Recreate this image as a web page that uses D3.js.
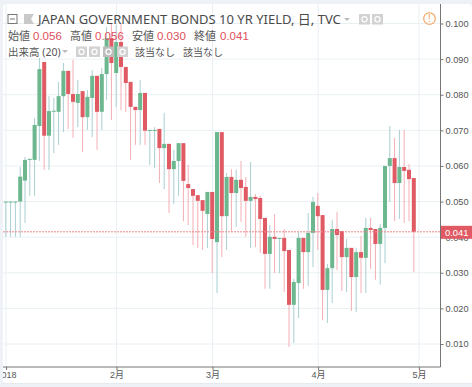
<!DOCTYPE html>
<html>
<head>
<meta charset="utf-8">
<script src="https://cdnjs.cloudflare.com/ajax/libs/d3/7.8.5/d3.min.js"></script>
<style>
    html, body { margin: 0; padding: 0; background: #eef1f5; }
    svg { display: block; }
    text { font-family: "Liberation Sans", "Noto Sans CJK JP", sans-serif; }
    .hdr { font-family: "Noto Sans", "Noto Sans CJK JP", sans-serif; }
</style>
</head>
<body>
<div id="chart"></div>
<script>
var openVals = [.0500, .0500, .0500, .0500, .0559, .0617, .0617, .0712, .0892, .0685, .0754, .0752, .0796, .0867, .0802, .0777, .0810, .0737, .0791, .0853, .0752, .0858,
    .0959, .0861, .0948, .0878, .0836, .0766, .0757, .0805, .0700, .0700, .0704, .0650, .0662, .0591, .0614, .0664, .0549, .0535, .0518, .0504, .0465,
    .0527, .0386, .0695, .0459, .0569, .0524, .0561, .0541, .0502, .0513, .0510, .0454, .0353, .0401, .0397, .0398, .0364, .0210, .0271, .0398, .0358, .0412,
    .0488, .0462, .0252, .0313, .0423, .0417, .0344, .0370, .0288, .0358, .0342, .0426, .0423, .0381, .0426, .0600, .0622, .0552, .0597, .0589, .0566]
var highVals = [.0500, .0500, .0500, .0597, .0625, .0620, .0735, .0903, .0892, .0796, .0791, .0836, .0889, .0867, .0898, .0841, .0810, .0813, .0869, .0853, .0875, .0990,
    .0999, .0996, .1001, .0878, .0836, .0766, .0841, .0805, .0701, .0709, .0704, .0749, .0662, .0645, .0664, .0664, .0603, .0535, .0518, .0504, .0527,
    .0527, .0695, .0695, .0580, .0591, .0589, .0614, .0569, .0611, .0521, .0516, .0454, .0434, .0465, .0398, .0423, .0364, .0283, .0415, .0398, .0468, .0513,
    .0524, .0462, .0325, .0448, .0471, .0417, .0395, .0370, .0370, .0403, .0454, .0454, .0423, .0437, .0600, .0712, .0679, .0701, .0701, .0605, .0566]
var lowVals = [.0401, .0401, .0401, .0401, .0440, .0516, .0516, .0614, .0589, .0589, .0636, .0659, .0695, .0704, .0679, .0709, .0639, .0701, .0681, .0645, .0701, .0785,
    .0729, .0766, .0757, .0752, .0617, .0659, .0659, .0659, .0603, .0594, .0552, .0535, .0468, .0493, .0516, .0445, .0434, .0378, .0370, .0364, .0370,
    .0299, .0243, .0344, .0364, .0415, .0429, .0443, .0401, .0370, .0372, .0356, .0255, .0255, .0299, .0299, .0246, .0092, .0103, .0173, .0255, .0263, .0316,
    .0364, .0167, .0159, .0215, .0308, .0249, .0246, .0193, .0190, .0243, .0243, .0311, .0280, .0266, .0327, .0499, .0445, .0451, .0440, .0445, .0302]
var closeVals = [.0500, .0500, .0500, .0570, .0617, .0620, .0715, .0872, .0685, .0754, .0755, .0796, .0867, .0802, .0780, .0802, .0737, .0794, .0853, .0752, .0858, .0959,
    .0889, .0948, .0878, .0833, .0766, .0757, .0805, .0699, .0701, .0701, .0650, .0662, .0591, .0614, .0664, .0558, .0538, .0516, .0502, .0474, .0527,
    .0395, .0695, .0459, .0569, .0524, .0561, .0538, .0502, .0513, .0507, .0451, .0353, .0401, .0395, .0398, .0361, .0210, .0274, .0398, .0358, .0412, .0499,
    .0459, .0252, .0313, .0423, .0406, .0344, .0370, .0288, .0358, .0342, .0426, .0420, .0381, .0426, .0600, .0622, .0552, .0597, .0586, .0563, .0415]

var yTicks = [.01, .02, .03, .04, .05, .06, .07, .08, .09, .10]
var xTickIndex = [0, 23, 43, 65, 86]
var xTickLabels = ["2018", "2月", "3月", "4月", "5月"]
var lastLabel = "0.041"

var headerNames = ["始値", "高値", "安値", "終値"]
var headerVals = ["0.056", "0.056", "0.030", "0.041"]

var W = 472, H = 387
var plot = { left: 3, right: 440.5, top: 4, bottom: 367 }
var GREEN = "#6cb78e", RED = "#e05a64", GREEN_WICK = "#a9cfd0", RED_WICK = "#f3aeb6", GRID = "#e9f0f4"

var svg = d3.select("#chart").append("svg")
    .attr("width", W)
    .attr("height", H)

// white card with rounded corners
svg.append("rect")
    .attr("x", plot.left).attr("y", plot.top)
    .attr("width", W - plot.left).attr("height", 380)
    .attr("rx", 4)
    .attr("fill", "#ffffff")

var defs = svg.append("defs")
defs.append("clipPath").attr("id", "plotClip")
    .append("rect")
    .attr("x", plot.left).attr("y", plot.top)
    .attr("width", plot.right - plot.left).attr("height", plot.bottom - plot.top)
defs.append("clipPath").attr("id", "xClip")
    .append("rect").attr("x", plot.left).attr("y", -1).attr("width", W).attr("height", 20)
defs.append("filter").attr("id", "soft")
    .append("feGaussianBlur").attr("stdDeviation", .3)

var x = d3.scaleLinear().domain([0, 86]).range([6.1, 418.9])
var y = d3.scaleLinear().domain([.01, .10]).range([344, 23.5])
var up = function (i) { return closeVals[i] >= openVals[i] }

// grid
var grid = svg.append("g").attr("clip-path", "url(#plotClip)")
grid.selectAll(".h").data(yTicks).enter().append("line")
    .attr("x1", plot.left).attr("x2", plot.right)
    .attr("y1", function (d) { return y(d) }).attr("y2", function (d) { return y(d) })
    .attr("stroke", GRID)
grid.selectAll(".v").data(xTickIndex).enter().append("line")
    .attr("y1", plot.top).attr("y2", plot.bottom)
    .attr("x1", function (d) { return x(d) }).attr("x2", function (d) { return x(d) })
    .attr("stroke", GRID)

// candles
var idx = d3.range(openVals.length)
var candles = svg.append("g").attr("clip-path", "url(#plotClip)").append("g").attr("filter", "url(#soft)")
candles.selectAll(".wick").data(idx).enter().append("line")
    .attr("x1", function (i) { return x(i) - .3 }).attr("x2", function (i) { return x(i) - .3 })
    .attr("y1", function (i) { return y(highVals[i]) })
    .attr("y2", function (i) { return y(lowVals[i]) })
    .attr("stroke-width", 1)
    .attr("stroke", function (i) { return up(i) ? GREEN_WICK : RED_WICK })
candles.selectAll(".body").data(idx).enter().append("rect")
    .attr("x", function (i) { return x(i) - 2.3 })
    .attr("width", 4)
    .attr("y", function (i) { return y(Math.max(openVals[i], closeVals[i])) })
    .attr("height", function (i) { return Math.max(1, Math.abs(y(openVals[i]) - y(closeVals[i]))) })
    .attr("fill", function (i) { return up(i) ? GREEN : RED })

// last price line
svg.append("line")
    .attr("x1", plot.left).attr("x2", plot.right)
    .attr("y1", y(closeVals[85])).attr("y2", y(closeVals[85]))
    .attr("stroke", "#ee858e")
    .attr("stroke-dasharray", "2,1")

// axes
var yAxis = svg.append("g")
    .attr("transform", "translate(" + plot.right + ",0)")
    .call(d3.axisRight(y).tickValues(yTicks).tickFormat(d3.format(".3f")).tickSize(3).tickPadding(2))
yAxis.select(".domain").attr("d", "M0," + plot.top + "V" + plot.bottom).attr("stroke", "#757575")
yAxis.selectAll(".tick line").attr("stroke", "#757575")
yAxis.selectAll("text").attr("font-size", 9.2).attr("fill", "#555").style("font-family", "'Liberation Sans'")

var xAxis = svg.append("g")
    .attr("transform", "translate(0," + plot.bottom + ")")
    .attr("clip-path", "url(#xClip)")
xAxis.call(d3.axisBottom(x).tickValues(xTickIndex)
    .tickFormat(function (d, i) { return xTickLabels[i] }).tickSize(3).tickPadding(2))
xAxis.select(".domain").attr("d", "M" + plot.left + ",0H" + plot.right).attr("stroke", "#757575")
xAxis.selectAll(".tick line").attr("stroke", "#757575")
xAxis.selectAll("text").attr("font-size", 9).attr("fill", "#555")

svg.append("line").attr("x1", plot.left).attr("x2", W).attr("y1", 383.5).attr("y2", 383.5).attr("stroke", "#e6e9ed")

// last price label
svg.append("rect")
    .attr("x", plot.right + .5).attr("y", y(closeVals[85]) - 6)
    .attr("width", W - plot.right).attr("height", 13)
    .attr("fill", RED)
svg.append("text")
    .attr("x", 445).attr("y", y(closeVals[85]) + 4.3)
    .attr("font-size", 9.4)
    .attr("fill", "#fff")
    .text(lastLabel)

// header
var hdr = svg.append("g")
hdr.append("rect").attr("x", 8).attr("y", 14.5).attr("width", 9).attr("height", 9)
    .attr("fill", "#fff").attr("stroke", "#777")
hdr.append("line").attr("x1", 10).attr("x2", 15).attr("y1", 19).attr("y2", 19).attr("stroke", "#777")
hdr.append("path").attr("d", "M24,14H34L31,19L34,24H24Z").attr("fill", "#c9c9c9")

hdr.append("text").attr("class", "hdr")
    .attr("x", 38).attr("y", 24)
    .attr("font-size", 13).attr("fill", "#4a4a4a")
    .text("JAPAN GOVERNMENT BONDS 10 YR YIELD, 日, TVC")
hdr.append("path").attr("d", "M344,18h6l-3,3Z").attr("fill", "#bbb")
iconBox(hdr, 359, 14, "#d2d2d2")
iconBox(hdr, 372, 14, "#d2d2d2")

var nameX = [8, 70, 132, 194]
var valX = [33, 95, 157, 220]
headerNames.forEach(function (n, i) {
    hdr.append("text").attr("class", "hdr").attr("x", nameX[i]).attr("y", 40)
        .attr("font-size", 11).attr("fill", "#555").text(n)
    hdr.append("text").attr("x", valX[i]).attr("y", 40)
        .attr("font-size", 11.5).attr("fill", "#e0505c").text(headerVals[i])
})

hdr.append("text").attr("class", "hdr").attr("x", 8).attr("y", 55.5)
    .attr("font-size", 10.5).attr("fill", "#555").text("出来高 (20)")
hdr.append("path").attr("d", "M62,50h6l-3,3Z").attr("fill", "#bbb")
iconBox(hdr, 76, 46.5, "#d2d2d2")
iconBox(hdr, 89, 46.5, "#d2d2d2")
iconBox(hdr, 103, 46.5, "#bdbdbd")
iconBox(hdr, 117, 46.5, "#d2d2d2")
hdr.append("text").attr("class", "hdr").attr("x", 135).attr("y", 55.5)
    .attr("font-size", 10).attr("fill", "#555").text("該当なし")
hdr.append("text").attr("class", "hdr").attr("x", 183).attr("y", 55.5)
    .attr("font-size", 10).attr("fill", "#555").text("該当なし")

function iconBox(g, bx, by, fill) {
    g.append("rect").attr("x", bx).attr("y", by).attr("width", 11).attr("height", 10.5).attr("fill", fill)
    g.append("circle").attr("cx", bx + 5.5).attr("cy", by + 5.2).attr("r", 2.6)
        .attr("fill", "none").attr("stroke", "#fff").attr("stroke-width", 1.2)
}

// warning icon
hdr.append("circle").attr("cx", 429.5).attr("cy", 18.5).attr("r", 5.8)
    .attr("fill", "#fff").attr("stroke", "#f0a05a").attr("stroke-width", 1.1)
hdr.append("text").attr("x", 429.5).attr("y", 22.3).attr("text-anchor", "middle")
    .attr("font-size", 10).attr("fill", "#f0a05a").text("!")
</script>
</body>
</html>
